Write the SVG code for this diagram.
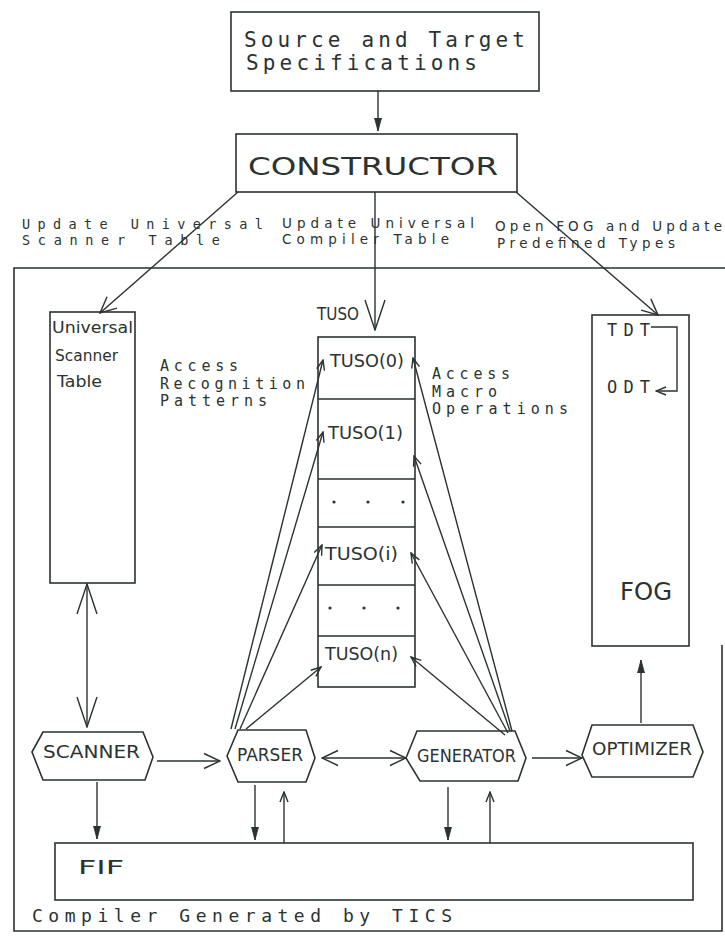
<svg xmlns="http://www.w3.org/2000/svg" width="725" height="938" viewBox="0 0 725 938">
<style>
  .box { fill: none; stroke: #2b3331; stroke-width: 1.6; }
  .ln { fill: none; stroke: #2b3331; stroke-width: 1.4; }
  .t { font-family: "DejaVu Sans", "Liberation Sans", sans-serif; fill: #2b3331; }
  .m { font-family: "DejaVu Sans Mono", "Liberation Mono", monospace; fill: #2b3331; }
  .dot { fill: #2b3331; }
</style>
<defs>
  <marker id="big" markerUnits="userSpaceOnUse" viewBox="0 0 32 22" refX="31" refY="11" markerWidth="32" markerHeight="22" orient="auto-start-reverse">
    <path d="M1,1 L31,11 L1,21" fill="none" stroke="#2b3331" stroke-width="1.4"/>
  </marker>
  <marker id="med" markerUnits="userSpaceOnUse" viewBox="0 0 18 18" refX="17" refY="9" markerWidth="18" markerHeight="18" orient="auto-start-reverse">
    <path d="M1,1.5 L17,9 L1,16.5" fill="none" stroke="#2b3331" stroke-width="1.4"/>
  </marker>
  <marker id="sm" markerUnits="userSpaceOnUse" viewBox="0 0 12 10" refX="11" refY="5" markerWidth="12" markerHeight="10" orient="auto-start-reverse">
    <path d="M1,1 L11,5 L1,9" fill="none" stroke="#2b3331" stroke-width="1.4"/>
  </marker>
  <marker id="fil" markerUnits="userSpaceOnUse" viewBox="0 0 14 8" refX="13" refY="4" markerWidth="14" markerHeight="8" orient="auto">
    <path d="M0,0.5 L13,4 L0,7.5 Z" fill="#2b3331" stroke="#2b3331" stroke-width="0.8"/>
  </marker>
</defs>

<!-- outer frame -->
<g id="frame">
  <path class="box" d="M725,268 H14 V931 H722 V645"/>
  <text class="m" x="32" y="922" font-size="18" textLength="420" lengthAdjust="spacing">Compiler Generated by TICS</text>
</g>

<g id="source">
  <rect class="box" x="231" y="12" width="308" height="79"/>
  <text class="m" x="244" y="47" font-size="21" textLength="281" lengthAdjust="spacing">Source and Target</text>
  <text class="m" x="246" y="70" font-size="21" textLength="231" lengthAdjust="spacing">Specifications</text>
</g>

<g id="constructor">
  <rect class="box" x="236" y="134" width="281" height="58"/>
  <text class="t" x="248" y="175" font-size="25" textLength="250" lengthAdjust="spacingAndGlyphs">CONSTRUCTOR</text>
</g>

<g id="labels">
  <text class="m" x="22" y="229" font-size="13.5" textLength="241" lengthAdjust="spacing">Update Universal</text>
  <text class="m" x="22" y="245" font-size="13.5" textLength="198" lengthAdjust="spacing">Scanner Table</text>
  <text class="t" x="282" y="228" font-size="13.5" textLength="192" lengthAdjust="spacing">Update Universal</text>
  <text class="t" x="282" y="244" font-size="13.5" textLength="167" lengthAdjust="spacing">Compiler Table</text>
  <text class="t" x="495" y="231" font-size="13.5" textLength="227" lengthAdjust="spacing">Open FOG and Update</text>
  <text class="t" x="497" y="248" font-size="13.5" textLength="178" lengthAdjust="spacing">Predefined Types</text>
  <text class="m" x="160" y="371" font-size="15" textLength="78" lengthAdjust="spacing">Access</text>
  <text class="m" x="160" y="389" font-size="15" textLength="145" lengthAdjust="spacing">Recognition</text>
  <text class="m" x="160" y="406" font-size="15" textLength="107" lengthAdjust="spacing">Patterns</text>
  <text class="m" x="432" y="379" font-size="15" textLength="78" lengthAdjust="spacing">Access</text>
  <text class="m" x="432" y="397" font-size="15" textLength="65" lengthAdjust="spacing">Macro</text>
  <text class="m" x="432" y="414" font-size="15" textLength="136" lengthAdjust="spacing">Operations</text>
  <text class="t" x="317" y="320" font-size="18" textLength="42" lengthAdjust="spacingAndGlyphs">TUSO</text>
</g>

<g id="ust">
  <rect class="box" x="50" y="312" width="85" height="271"/>
  <text class="t" x="52" y="333" font-size="15" textLength="81" lengthAdjust="spacingAndGlyphs">Universal</text>
  <text class="t" x="55" y="361" font-size="15" textLength="63" lengthAdjust="spacingAndGlyphs">Scanner</text>
  <text class="t" x="57" y="387" font-size="15" textLength="45" lengthAdjust="spacingAndGlyphs">Table</text>
</g>

<g id="tuso">
  <rect class="box" x="318" y="337" width="97" height="350"/>
  <path class="box" d="M318,399 H415 M318,479 H415 M318,527 H415 M318,585 H415 M318,636 H415"/>
  <text class="t" x="330" y="367" font-size="18" textLength="74" lengthAdjust="spacingAndGlyphs">TUSO(0)</text>
  <text class="t" x="328" y="439" font-size="18" textLength="75" lengthAdjust="spacingAndGlyphs">TUSO(1)</text>
  <circle class="dot" cx="334" cy="502" r="1.6"/>
  <circle class="dot" cx="368" cy="502" r="1.6"/>
  <circle class="dot" cx="403" cy="502" r="1.6"/>
  <text class="t" x="325" y="560" font-size="18" textLength="73" lengthAdjust="spacingAndGlyphs">TUSO(i)</text>
  <circle class="dot" cx="330" cy="608" r="1.6"/>
  <circle class="dot" cx="364" cy="608" r="1.6"/>
  <circle class="dot" cx="398" cy="608" r="1.6"/>
  <text class="t" x="325" y="660" font-size="18" textLength="73" lengthAdjust="spacingAndGlyphs">TUSO(n)</text>
</g>

<g id="fog">
  <rect class="box" x="592" y="315" width="97" height="331"/>
  <text class="m" x="607" y="336" font-size="17" textLength="43" lengthAdjust="spacing">TDT</text>
  <text class="m" x="607" y="393" font-size="17" textLength="43" lengthAdjust="spacing">ODT</text>
  <polyline class="ln" points="651,327 677,327 677,391 656,391" marker-end="url(#sm)"/>
  <text class="t" x="620" y="600" font-size="25" textLength="52" lengthAdjust="spacingAndGlyphs">FOG</text>
</g>

<g id="scanner">
  <polygon class="box" points="32,752 43,732 143,732 153,757 145,780 43,780"/>
  <text class="t" x="43" y="758" font-size="18" textLength="97" lengthAdjust="spacingAndGlyphs">SCANNER</text>
</g>
<g id="parser">
  <polygon class="box" points="227,756 238,730 306,730 315,758 306,782 238,782"/>
  <text class="t" x="237" y="761" font-size="18" textLength="66" lengthAdjust="spacingAndGlyphs">PARSER</text>
</g>
<g id="generator">
  <polygon class="box" points="406,758 417,731 515,731 526,758 518,781 420,781"/>
  <text class="t" x="417" y="762" font-size="18" textLength="99" lengthAdjust="spacingAndGlyphs">GENERATOR</text>
</g>
<g id="optimizer">
  <polygon class="box" points="582,755 592,725 693,725 703,752 693,777 592,777"/>
  <text class="t" x="592" y="755" font-size="18" textLength="100" lengthAdjust="spacingAndGlyphs">OPTIMIZER</text>
</g>

<g id="fif">
  <rect class="box" x="55" y="843" width="638" height="57"/>
  <text class="t" x="78" y="874" font-size="20" textLength="46" lengthAdjust="spacingAndGlyphs">FIF</text>
</g>

<g id="connectors">
  <line class="ln" x1="378" y1="91" x2="378" y2="131" marker-end="url(#fil)"/>
  <line class="ln" x1="238" y1="192" x2="100" y2="313" marker-end="url(#med)"/>
  <line class="ln" x1="375" y1="192" x2="375" y2="330" marker-end="url(#big)"/>
  <line class="ln" x1="516" y1="192" x2="658" y2="315" marker-end="url(#med)"/>
  <line class="ln" x1="87" y1="584" x2="87" y2="727" marker-start="url(#big)" marker-end="url(#big)"/>
  <line class="ln" x1="157" y1="761" x2="220" y2="761" marker-end="url(#med)"/>
  <line class="ln" x1="322" y1="758" x2="406" y2="758" marker-start="url(#med)" marker-end="url(#med)"/>
  <line class="ln" x1="532" y1="758" x2="582" y2="758" marker-end="url(#med)"/>
  <line class="ln" x1="641" y1="723" x2="641" y2="660" marker-end="url(#fil)"/>
  <!-- parser to TUSO -->
  <line class="ln" x1="231" y1="729" x2="323" y2="360" marker-end="url(#sm)"/>
  <line class="ln" x1="235" y1="729" x2="323" y2="432" marker-end="url(#sm)"/>
  <line class="ln" x1="240" y1="729" x2="322" y2="545" marker-end="url(#sm)"/>
  <line class="ln" x1="246" y1="729" x2="321" y2="667" marker-end="url(#sm)"/>
  <!-- generator to TUSO -->
  <line class="ln" x1="512" y1="731" x2="413" y2="358" marker-end="url(#sm)"/>
  <line class="ln" x1="510" y1="731" x2="414" y2="456" marker-end="url(#sm)"/>
  <line class="ln" x1="508" y1="733" x2="411" y2="553" marker-end="url(#sm)"/>
  <line class="ln" x1="505" y1="735" x2="411" y2="657" marker-end="url(#sm)"/>
  <!-- to / from FIF -->
  <line class="ln" x1="97" y1="782" x2="97" y2="839" marker-end="url(#fil)"/>
  <line class="ln" x1="255" y1="785" x2="255" y2="840" marker-end="url(#fil)"/>
  <line class="ln" x1="284" y1="843" x2="284" y2="792" marker-end="url(#sm)"/>
  <line class="ln" x1="448" y1="787" x2="448" y2="840" marker-end="url(#fil)"/>
  <line class="ln" x1="490" y1="843" x2="490" y2="792" marker-end="url(#sm)"/>
</g>
</svg>
